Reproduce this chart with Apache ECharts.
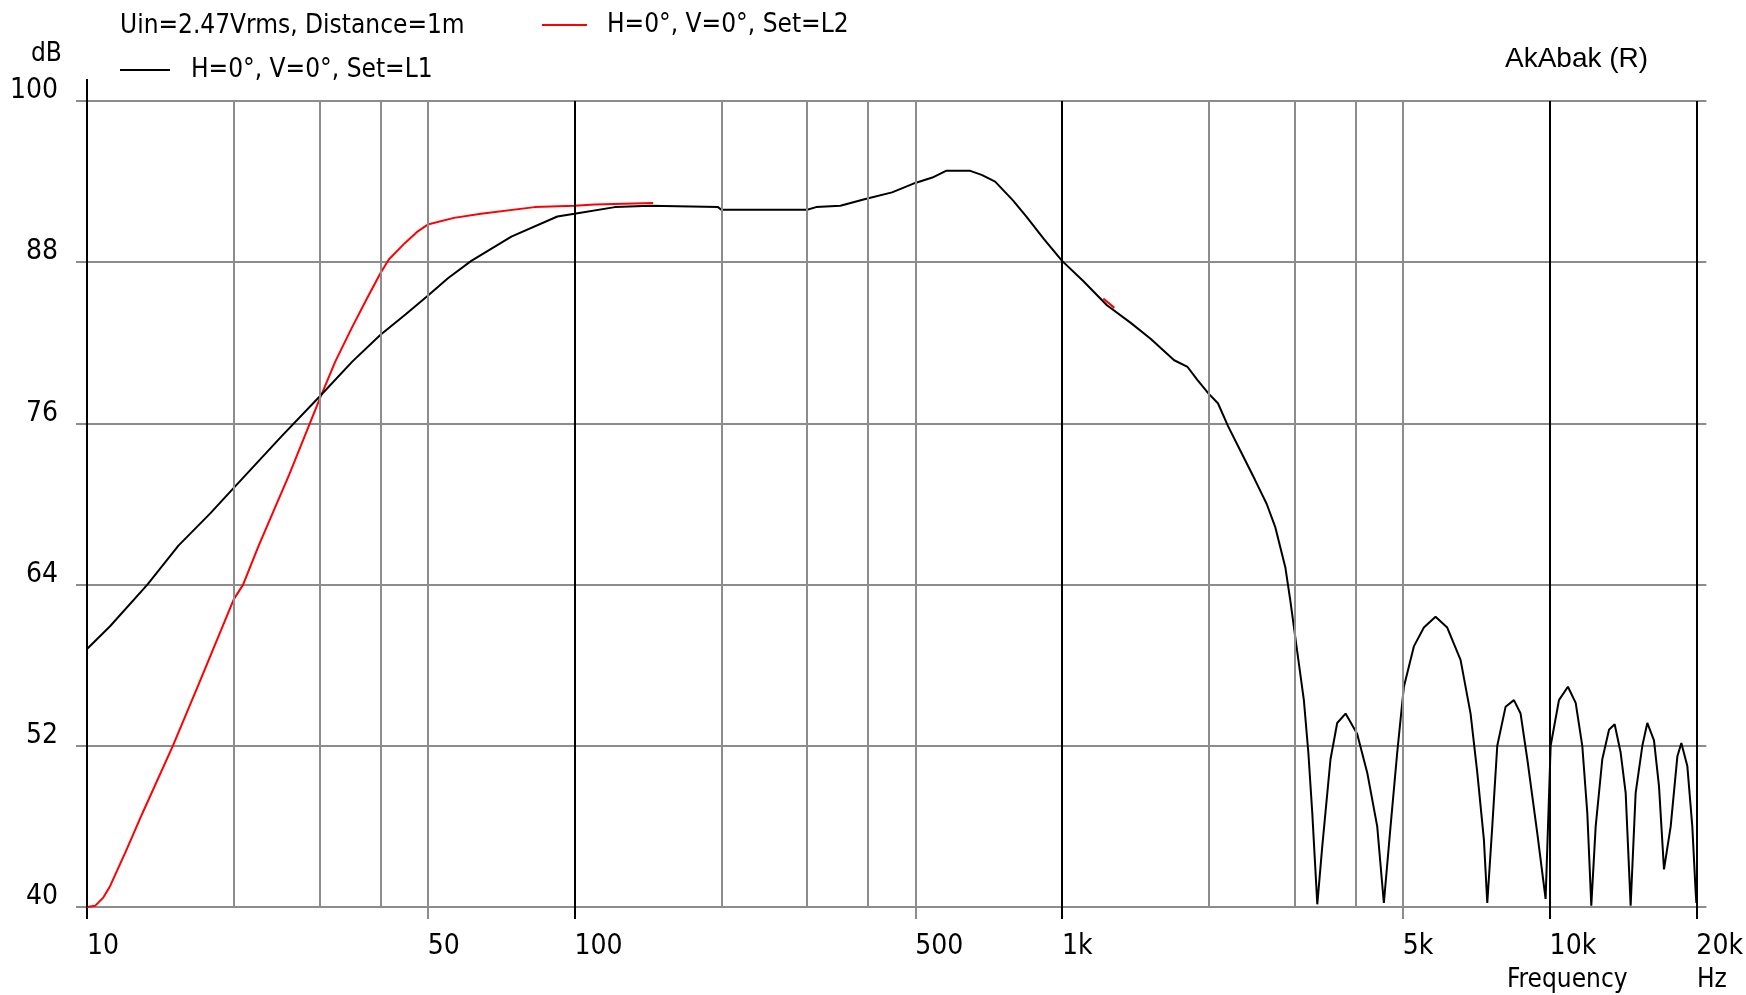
<!DOCTYPE html>
<html><head><meta charset="utf-8">
<script src="https://cdn.jsdelivr.net/npm/echarts@6/dist/echarts.min.js"></script>
<style>html,body{margin:0;padding:0;background:#fff;}#c{width:1746px;height:995px;}</style>
</head><body><div id="c"></div>
<script>
// ---- data ----
const l1Freq = [10,11.15,13.3,15.4,17.9,20,25,30,35,40,45,50,55,61.4,74.2,92.2,100,121,143,197,200,300,313,351,395,448,500,542,578,648,684,729,793,845,919,1000,1105,1236,1381,1519,1698,1809,1898,2000,2088,2190,2334,2487,2629,2736,2870,2939,3034,3133,3200,3260,3300,3338,3417,3553,3667,3815,4029,4226,4430,4571,4718,4869,5025,5267,5522,5835,6166,6567,6885,7107,7333,7450,7628,7810,8122,8449,8720,9000,9434,9813,10050,10452,10904,11311,11669,11949,12176,12431,12826,13240,13596,13987,14322,14663,15014,15496,15864,16372,16764,17164,17716,18281,18630,19163,19620,19935,20000];
const l1Db   = [59.2,60.9,64.0,66.9,69.3,71.2,75.0,78.0,80.6,82.6,84.1,85.5,86.8,88.1,89.9,91.4,91.6,92.1,92.2,92.1,91.9,91.9,92.1,92.2,92.7,93.2,93.9,94.3,94.8,94.8,94.5,94.0,92.6,91.4,89.7,88.1,86.6,84.8,83.5,82.3,80.7,80.2,79.2,78.2,77.5,75.8,73.8,71.8,70.0,68.3,65.3,62.8,59.1,55.4,51.5,47.0,43.5,40.2,44.5,51.0,53.7,54.4,52.9,50.0,46.0,40.3,46.0,51.5,56.4,59.4,60.8,61.6,60.8,58.4,54.4,50.0,45.0,40.3,46.0,52.0,54.9,55.4,54.4,51.0,45.5,40.6,52.0,55.4,56.4,55.2,52.0,47.0,40.1,46.0,51.0,53.2,53.6,51.5,48.5,40.1,48.5,52.0,53.7,52.4,49.0,42.8,46.0,51.2,52.2,50.5,46.0,41.1,40.3];
const l2Freq = [10,10.4,10.8,11.15,12,13,15,17,20,20.9,22.5,26,30,32.3,34.8,37.4,40,41.6,44.8,47.7,50,56.6,64.3,82.8,100,110,145];
const l2Db   = [40.0,40.1,40.7,41.55,44.1,47.0,52.0,56.7,62.9,64.0,66.9,72.2,77.8,80.6,83.0,85.2,87.2,88.2,89.4,90.3,90.8,91.3,91.6,92.1,92.2,92.3,92.4];
const l2MidFreq = [1215,1280];
const l2MidDb   = [85.3,84.6];
// ---- axis ticks / labels ----
const yMin = 40, yMax = 100, yStep = 12;          // 40,52,64,76,88,100
const xMin = 10, xMax = 20000;
const xGridMajor = [10,100,1000,10000,20000];
const xGridMinor = [20,30,40,50,200,300,400,500,2000,3000,4000,5000];
const xLabelsMajor = [10,100,1000,10000,20000];
const xLabelsMinor = [50,500,5000];
const nameL2 = 'H=0°, V=0°, Set=L2';
const nameL1 = 'H=0°, V=0°, Set=L1';

const FONT = "'Liberation Sans Narrow','DejaVu Sans Condensed','Liberation Sans',sans-serif";
const GRAY = '#8c8c8c';
const zip = (a,b) => a.map((v,i)=>[v,b[i]]);
const fmtHz = v => { v = Math.round(v); return v >= 1000 ? (v/1000)+'k' : String(v); };
const txt = (o) => Object.assign({color:'#000', fontFamily:FONT, fontSize:26, fontWeight:'normal'}, o||{});

const xAxisBase = (ticks, color) => ({
  type:'log', logBase:10, min:xMin, max:xMax, gridIndex:0, position:'bottom',
  axisLine:{show:false}, splitLine:{show:false}, minorTick:{show:false},
  axisTick:{show:true, customValues:ticks, length:12, lineStyle:{color:color, width:2}},
  axisLabel:Object.assign(txt({fontSize:28}), {customValues:ticks, formatter:fmtHz, align:'left', verticalAlign:'middle', margin:40})
});

const chart = echarts.init(document.getElementById('c'), null, {renderer:'canvas'});
chart.setOption({
  animation:false,
  backgroundColor:'#fff',
  grid:{left:87, right:49, top:101, bottom:88, containLabel:false},
  title:[
    {text:'Uin=2.47Vrms, Distance=1m', left:120, top:13, padding:0, textStyle:txt()},
    {text:'dB', left:31, top:41, padding:0, textStyle:txt()},
    {text:'AkAbak (R)', left:1505, top:45, padding:0, textStyle:txt({fontFamily:"'Liberation Sans',sans-serif", fontSize:28})},
    {text:'Frequency', left:1507, top:967, padding:0, textStyle:txt({fontSize:26})},
    {text:'Hz', left:1697, top:967, padding:0, textStyle:txt({fontSize:26})}
  ],
  legend:[
    {data:[nameL2], left:542, top:12, padding:0, icon:'rect', itemWidth:45, itemHeight:2, selectedMode:false,
     textStyle:txt({padding:[0,0,0,15]})},
    {data:[nameL1], left:120, top:57, padding:0, icon:'rect', itemWidth:50, itemHeight:2, selectedMode:false,
     textStyle:txt({padding:[0,0,0,16]})}
  ],
  xAxis:[ xAxisBase(xLabelsMajor,'#000'), xAxisBase(xLabelsMinor,GRAY) ],
  yAxis:[
    {type:'value', min:yMin, max:yMax, interval:yStep, position:'left',
     axisLine:{show:true, lineStyle:{color:'#000', width:2}, symbol:['none','rect'], symbolSize:[2,44]},
     axisTick:{show:true, length:11, lineStyle:{color:GRAY, width:2}},
     axisLabel:Object.assign(txt({fontSize:28}), {margin:29, verticalAlign:'bottom', lineHeight:20}),
     splitLine:{show:true, lineStyle:{color:GRAY, width:2}}},
    {type:'value', min:yMin, max:yMax, interval:yStep, position:'right',
     axisLine:{show:false}, axisLabel:{show:false}, splitLine:{show:false},
     axisTick:{show:true, length:10, lineStyle:{color:GRAY, width:2}}}
  ],
  series:[
    {type:'line', name:'grid', data:[], z:1, silent:true,
     markLine:{silent:true, symbol:['none','none'], label:{show:false}, animation:false,
       data:[].concat(
         xGridMinor.map(v=>({xAxis:v, lineStyle:{color:GRAY, width:2, type:'solid'}})),
         xGridMajor.map(v=>({xAxis:v, lineStyle:{color:'#000', width:2, type:'solid'}}))
       )}},
    {type:'line', name:nameL2, data:zip(l2Freq,l2Db), z:2, showSymbol:false, symbol:'none',
     lineStyle:{color:'#ff0000', width:2}, itemStyle:{color:'#ff0000'}},
    {type:'line', name:nameL2, data:zip(l2MidFreq,l2MidDb), z:2, showSymbol:false, symbol:'none',
     lineStyle:{color:'#ff0000', width:2}, itemStyle:{color:'#ff0000'}},
    {type:'line', name:nameL1, data:zip(l1Freq,l1Db), z:3, showSymbol:false, symbol:'none',
     lineStyle:{color:'#000', width:2}, itemStyle:{color:'#000'}}
  ]
});
</script></body></html>
